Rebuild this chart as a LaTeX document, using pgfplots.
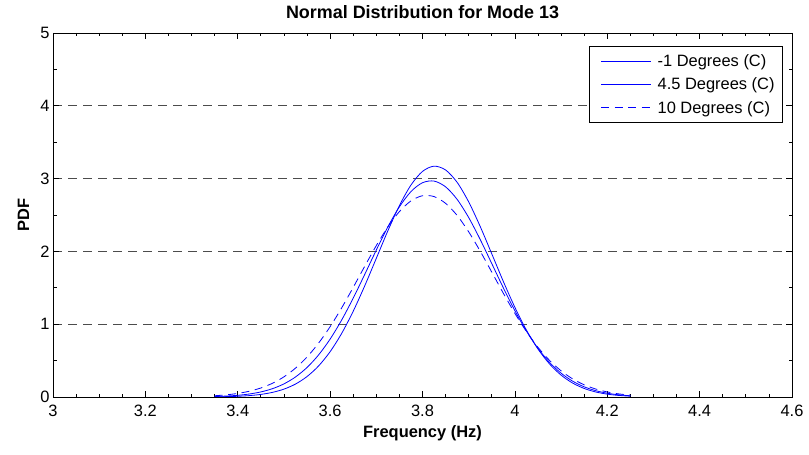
\documentclass[border=0pt]{standalone}
\usepackage{fontspec}
\setmainfont{Liberation Sans}
\usepackage{pgfplots}
\pgfplotsset{compat=1.18}
\begin{document}
\begin{tikzpicture}
\path[use as bounding box] (0,0) rectangle (809bp,455bp);
\begin{axis}[
  at={(53bp,58bp)}, anchor=south west,
  scale only axis, width=739bp, height=364bp,
  xmin=3, xmax=4.6, ymin=0, ymax=5,
  xtick={3,3.2,3.4,3.6,3.8,4,4.2,4.4,4.6},
  ytick={0,1,2,3,4,5},
  minor x tick num=3, minor y tick num=1,
  tick align=inside,
  major tick length=6bp, minor tick length=3.5bp,
  every tick/.style={black, line width=0.7bp},
  axis line style={black, line width=0.8bp},
  /pgf/number format/assume math mode=true,
  /pgf/number format/fixed,
  tick label style={font=\fontsize{16.5}{19}\selectfont},
  xticklabel style={anchor=base, yshift=-19.5bp},
  yticklabel style={anchor=east, xshift=0bp},
  ymajorgrids=true,
  major grid style={black!70, line width=0.9bp, dash pattern=on 9bp off 6bp},
  title={Normal Distribution for Mode 13},
  title style={font=\fontsize{18}{21}\selectfont\bfseries, at={(axis description cs:0.5,1.0247)}, anchor=base},
  xlabel={Frequency (Hz)},
  xlabel style={font=\fontsize{16.5}{19}\selectfont\bfseries, at={(axis description cs:0.5,-0.1126)}, anchor=base},
  ylabel={PDF},
  ylabel style={font=\fontsize{16.5}{19}\selectfont\bfseries, at={(axis description cs:-0.0399,0.5)}, anchor=center},
  legend style={at={(axis description cs:0.9878,0.9643)}, anchor=north east,
    draw=black, line width=0.8bp, fill=white,
    font=\fontsize{16.5}{19}\selectfont,
    inner xsep=8bp, inner ysep=8bp, row sep=10bp,
    nodes={inner sep=0bp}, cells={anchor=west}},
  legend image code/.code={\path (0bp,0bp); \draw[#1, blue, line width=1bp] (3bp,0bp) -- (53bp,0bp); \path (59bp,0bp);},
]
\addplot[blue, line width=0.8bp, smooth] coordinates {
(3.350,0.0024) (3.375,0.0050) (3.400,0.0100) (3.425,0.0192) (3.450,0.0356) (3.475,0.0633) (3.500,0.1081) (3.525,0.1777) (3.550,0.2809) (3.575,0.4264) (3.600,0.6226) (3.625,0.8736) (3.650,1.1785) (3.675,1.5282) (3.700,1.9050) (3.725,2.2827) (3.750,2.6293) (3.775,2.9114) (3.800,3.0988) (3.825,3.1706) (3.850,3.1185) (3.875,2.9484) (3.900,2.6796) (3.925,2.3411) (3.950,1.9662) (3.975,1.5873) (4.000,1.2318) (4.025,0.9189) (4.050,0.6590) (4.075,0.4543) (4.100,0.3010) (4.125,0.1917) (4.150,0.1174) (4.175,0.0691) (4.200,0.0391) (4.225,0.0213) (4.250,0.0111)
};
\addlegendentry{-1 Degrees (C)}
\addplot[blue, line width=0.8bp, smooth] coordinates {
(3.350,0.0069) (3.375,0.0129) (3.400,0.0234) (3.425,0.0411) (3.450,0.0696) (3.475,0.1139) (3.500,0.1800) (3.525,0.2749) (3.550,0.4055) (3.575,0.5779) (3.600,0.7955) (3.625,1.0576) (3.650,1.3582) (3.675,1.6849) (3.700,2.0189) (3.725,2.3368) (3.750,2.6127) (3.775,2.8216) (3.800,2.9434) (3.825,2.9660) (3.850,2.8869) (3.875,2.7142) (3.900,2.4649) (3.925,2.1623) (3.950,1.8323) (3.975,1.4997) (4.000,1.1857) (4.025,0.9055) (4.050,0.6679) (4.075,0.4759) (4.100,0.3276) (4.125,0.2178) (4.150,0.1399) (4.175,0.0868) (4.200,0.0520) (4.225,0.0301) (4.250,0.0168)
};
\addlegendentry{4.5 Degrees (C)}
\addplot[blue, line width=0.8bp, smooth, dash pattern=on 8bp off 5.5bp] coordinates {
(3.350,0.0172) (3.375,0.0295) (3.400,0.0491) (3.425,0.0791) (3.450,0.1238) (3.475,0.1880) (3.500,0.2771) (3.525,0.3962) (3.550,0.5496) (3.575,0.7397) (3.600,0.9661) (3.625,1.2245) (3.650,1.5057) (3.675,1.7966) (3.700,2.0800) (3.725,2.3366) (3.750,2.5470) (3.775,2.6939) (3.800,2.7646) (3.825,2.7530) (3.850,2.6600) (3.875,2.4938) (3.900,2.2686) (3.925,2.0025) (3.950,1.7151) (3.975,1.4253) (4.000,1.1494) (4.025,0.8993) (4.050,0.6827) (4.075,0.5030) (4.100,0.3595) (4.125,0.2493) (4.150,0.1678) (4.175,0.1096) (4.200,0.0694) (4.225,0.0427) (4.250,0.0255)
};
\addlegendentry{10 Degrees (C)}
\end{axis}
\end{tikzpicture}
\end{document}
